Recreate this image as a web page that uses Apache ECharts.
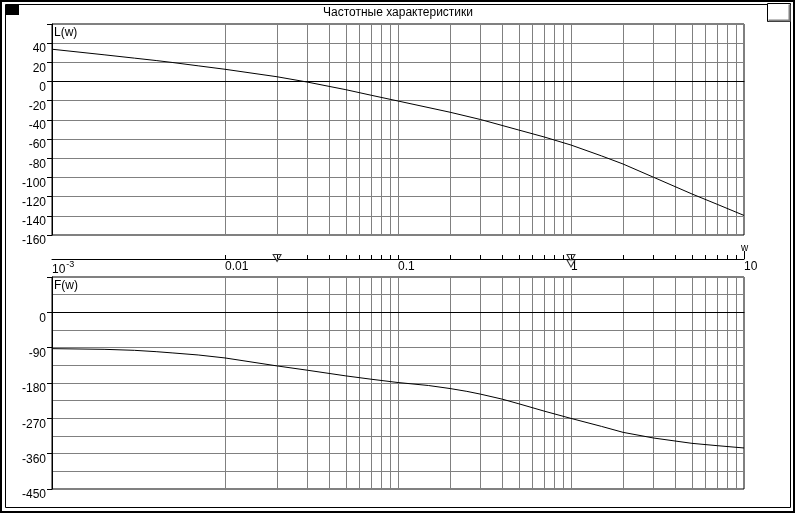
<!DOCTYPE html>
<html>
<head>
<meta charset="utf-8">
<script src="https://cdn.jsdelivr.net/npm/echarts@6/dist/echarts.min.js"></script>
<style>
html,body{margin:0;padding:0;background:#fff;}
#chart{width:795px;height:513px;}
</style>
</head>
<body>
<div id="chart"></div>
<script>
// ---- data ----
const freqL     = [0.001, 0.002, 0.003, 0.004, 0.005, 0.007, 0.01, 0.02, 0.03, 0.05, 0.07, 0.1, 0.2, 0.3, 0.5, 0.7, 1, 1.5, 2, 3, 5, 7, 10];
const magnitude = [33.7, 27.9, 24.4, 21.9, 19.8, 16.4, 12.8, 5.0, -0.6, -8.5, -14.3, -20.3, -32.0, -39.6, -50.6, -57.8, -66.2, -77.5, -86.0, -99.8, -117.2, -128.0, -139.6];
const freqF     = [0.001, 0.002, 0.003, 0.004, 0.005, 0.007, 0.01, 0.02, 0.03, 0.05, 0.07, 0.1, 0.15, 0.2, 0.25, 0.3, 0.4, 0.5, 0.7, 1, 1.5, 2, 3, 5, 7, 10];
const phase     = [-92.5, -94.2, -96.8, -100.2, -103.5, -108.6, -116.2, -136.5, -147.5, -161.9, -170.4, -178.8, -186.4, -194.1, -201.3, -208.4, -221.1, -233.0, -251.6, -270.2, -290.5, -305.7, -320.1, -333.7, -339.6, -345.5];
const magTicks   = [40, 20, 0, -20, -40, -60, -80, -100, -120, -140, -160];
const phaseTicks = [0, -90, -180, -270, -360, -450];
const decadeExps = [-3, -2, -1, 0, 1];
const markerFreq  = [0.02, 1, 1];
const markerLevel = [0.25, 0.25, -1.1];
const titleText = 'Частотные характеристики';

// grid-line values at k*10^d
const gridVals = [];
for (let d = -3; d <= 0; d++) {
  for (let k = 1; k <= 9; k++) {
    const v = parseFloat((k * Math.pow(10, d)).toPrecision(3));
    if (v > 0.001) gridVals.push(v);
  }
}
const tickVals = gridVals.concat([0.001, 10]);

const GRAY = '#808080';
const FONT = 'Liberation Sans';

function vLines(vals, color) {
  return vals.map(v => ({ xAxis: v, lineStyle: { color: color, width: 1, type: 'solid' } }));
}

const chart = echarts.init(document.getElementById('chart'), null, { renderer: 'canvas' });

const logX = (gi, extra) => Object.assign({
  gridIndex: gi, type: 'log', logBase: 10, min: 0.001, max: 10,
  axisLine: { show: true, lineStyle: { color: '#000', width: 1 } },
  axisTick: { show: false }, axisLabel: { show: false }, splitLine: { show: false }
}, extra || {});

const option = {
  animation: false,
  backgroundColor: '#fff',
  textStyle: { fontFamily: FONT },
  grid: [
    { left: 52, top: 24, width: 692, height: 211, show: true, borderColor: '#000', borderWidth: 1, backgroundColor: '#fff', containLabel: false },
    { left: 52, top: 277, width: 692, height: 212, show: true, borderColor: '#000', borderWidth: 1, backgroundColor: '#fff', containLabel: false },
    { left: 52, top: 255, width: 692, height: 4, show: false, containLabel: false }
  ],
  xAxis: [
    logX(0),
    logX(1),
    logX(2, { position: 'top' }),
    logX(2, {
      position: 'bottom',
      axisLine: { show: false },
      axisLabel: {
        show: true, color: '#000', fontSize: 12, fontFamily: FONT, align: 'left', margin: 1,
        formatter: function (v) {
          const e = Math.round(Math.log10(v));
          if (decadeExps.indexOf(e) < 0) return '';
          if (e === -3) return '{b|10}{s|-3}';
          return '{b|' + (e < 0 ? Math.pow(10, e).toFixed(-e) : String(Math.pow(10, e))) + '}';
        },
        rich: {
          b: { fontSize: 12, fontFamily: FONT, color: '#000', lineHeight: 14 },
          s: { fontSize: 9, fontFamily: FONT, color: '#000', padding: [0, 0, 10, 1] }
        }
      }
    })
  ],
  yAxis: [
    {
      gridIndex: 0, type: 'value', min: -160, max: 60, interval: 20,
      axisLine: { show: true, lineStyle: { color: '#000' } },
      axisTick: { show: true, length: 5, lineStyle: { color: '#000' } },
      axisLabel: {
        color: '#000', fontSize: 12, fontFamily: FONT, margin: 6, verticalAlign: 'top',
        formatter: v => (magTicks.indexOf(v) >= 0 ? String(v) : '')
      },
      splitLine: { show: true, lineStyle: { color: GRAY, width: 1 } }
    },
    {
      gridIndex: 1, type: 'value', min: -450, max: 90, interval: 90,
      axisLine: { show: true, lineStyle: { color: '#000' } },
      axisTick: { show: true, length: 5, lineStyle: { color: '#000' } },
      axisLabel: {
        color: '#000', fontSize: 12, fontFamily: FONT, margin: 6, verticalAlign: 'top',
        formatter: v => (phaseTicks.indexOf(v) >= 0 ? String(v) : '')
      },
      splitLine: { show: true, lineStyle: { color: GRAY, width: 1 } },
      minorTick: { show: false, splitNumber: 2 },
      minorSplitLine: { show: true, lineStyle: { color: GRAY, width: 1 } }
    },
    { gridIndex: 2, type: 'value', min: 0, max: 1, show: false }
  ],
  series: [
    {
      type: 'line', xAxisIndex: 0, yAxisIndex: 0, z: 3,
      data: freqL.map((f, i) => [f, magnitude[i]]),
      showSymbol: false, symbol: 'none', smooth: false,
      lineStyle: { color: '#000', width: 1 },
      markLine: {
        silent: true, symbol: ['none', 'none'], label: { show: false }, z: 1, animation: false,
        data: vLines(gridVals, GRAY).concat([{ yAxis: 0, lineStyle: { color: '#000', width: 1, type: 'solid' } }])
      }
    },
    {
      type: 'line', xAxisIndex: 1, yAxisIndex: 1, z: 3,
      data: freqF.map((f, i) => [f, phase[i]]),
      showSymbol: false, symbol: 'none', smooth: false,
      lineStyle: { color: '#000', width: 1 },
      markLine: {
        silent: true, symbol: ['none', 'none'], label: { show: false }, z: 1, animation: false,
        data: vLines(gridVals, GRAY).concat([{ yAxis: 0, lineStyle: { color: '#000', width: 1, type: 'solid' } }])
      }
    },
    {
      type: 'scatter', xAxisIndex: 2, yAxisIndex: 2, clip: false, z: 4,
      data: markerFreq.map((f, i) => [f, markerLevel[i]]),
      symbol: 'path://M0,0 L10,0 L5,9 Z', symbolSize: [8, 7],
      itemStyle: { color: '#fff', borderColor: '#000', borderWidth: 1 },
      markLine: {
        silent: true, symbol: ['none', 'none'], label: { show: false }, animation: false,
        data: vLines(tickVals, '#000')
      }
    }
  ],
  graphic: [
    { type: 'rect', shape: { x: 1, y: 1, width: 793, height: 511 }, style: { fill: 'none', stroke: '#000', lineWidth: 2 }, silent: true },
    { type: 'rect', shape: { x: 5.5, y: 4.5, width: 785, height: 503 }, style: { fill: 'none', stroke: '#000', lineWidth: 1 }, silent: true },
    { type: 'rect', shape: { x: 5, y: 5, width: 14, height: 10 }, style: { fill: '#000' }, silent: true },
    { type: 'rect', shape: { x: 767.5, y: 3.5, width: 23, height: 18 }, style: { fill: '#fff', stroke: '#000', lineWidth: 1 }, silent: true },
    { type: 'polyline', shape: { points: [[768.5, 20.5], [789.5, 20.5], [789.5, 4.5]] }, style: { fill: 'none', stroke: GRAY, lineWidth: 2 }, silent: true },
    { type: 'text', x: 398, y: 13, style: { text: titleText, fill: '#000', font: '12px "' + FONT + '"', textAlign: 'center', textVerticalAlign: 'middle' }, silent: true },
    { type: 'text', x: 54, y: 27, style: { text: 'L(w)', fill: '#000', font: '12px "' + FONT + '"', textAlign: 'left', textVerticalAlign: 'top' }, silent: true },
    { type: 'text', x: 54, y: 280, style: { text: 'F(w)', fill: '#000', font: '12px "' + FONT + '"', textAlign: 'left', textVerticalAlign: 'top' }, silent: true },
    { type: 'text', x: 741, y: 243, style: { text: 'w', fill: '#000', font: '10px "' + FONT + '"', textAlign: 'left', textVerticalAlign: 'top' }, silent: true },
    { type: 'line', shape: { x1: 744.5, y1: 251, x2: 744.5, y2: 255 }, style: { stroke: '#000', lineWidth: 1 }, silent: true }
  ]
};

chart.setOption(option);
</script>
</body>
</html>
